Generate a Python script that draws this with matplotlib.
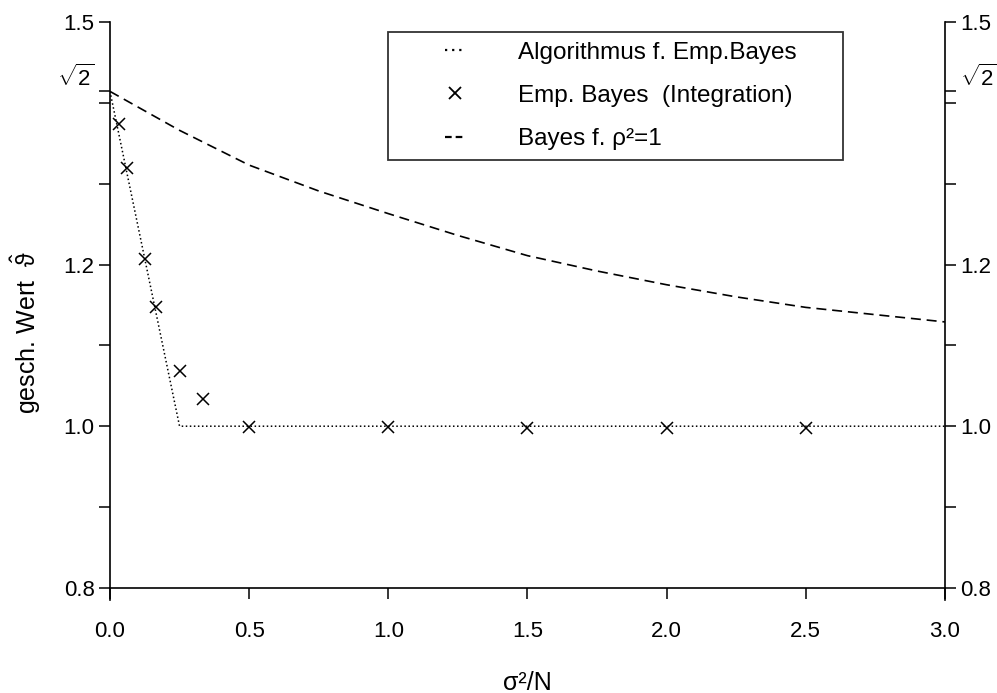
import numpy as np
import matplotlib
matplotlib.use("Agg")
import matplotlib.pyplot as plt
from matplotlib.lines import Line2D
from matplotlib.legend_handler import HandlerLine2D

plt.rcParams['font.family'] = ['Liberation Sans', 'DejaVu Sans']
plt.rcParams['mathtext.fontset'] = 'custom'
plt.rcParams['mathtext.rm'] = 'Liberation Sans'
plt.rcParams['mathtext.it'] = 'Liberation Sans'

SQ2 = np.sqrt(2)

# Algorithmus f. Emp.Bayes (dotted)
algo_x = [0.0, 0.25, 3.0]
algo_y = [SQ2, 1.0, 1.0]

# Emp. Bayes (Integration) (crosses)
emp_x = [1/32, 1/16, 1/8, 1/6, 1/4, 1/3, 0.5, 1.0, 1.5, 2.0, 2.5]
emp_y = [1.374, 1.319, 1.207, 1.147, 1.068, 1.034, 0.999, 0.999, 0.998, 0.998, 0.998]

# Bayes f. rho^2=1 (dashed)
bayes_x = [0.0, 0.25, 0.5, 0.75, 1.0, 1.25, 1.5, 1.75, 2.0, 2.25, 2.5, 2.75, 3.0]
bayes_y = [SQ2, 1.366, 1.323, 1.291, 1.263, 1.236, 1.211, 1.192, 1.175, 1.160, 1.147, 1.138, 1.129]

xticks = [0.0, 0.5, 1.0, 1.5, 2.0, 2.5, 3.0]
xticklabels = ['0.0', '0.5', '1.0', '1.5', '2.0', '2.5', '3.0']
yticks = [0.8, 0.9, 1.0, 1.1, 1.2, 1.3, 1.4, SQ2, 1.5]
yticklabels = ['0.8', '', '1.0', '', '1.2', '', '', r'$\sqrt{2}$', '1.5']

fig = plt.figure(figsize=(9.97, 6.93), dpi=100)
ax = fig.add_axes([0.1103, 0.1342, 0.8375, 0.8340])

ax.plot(algo_x, algo_y, color='black', linestyle=':', linewidth=1.1)
ax.plot(emp_x, emp_y, linestyle='none', marker='x', color='black', markersize=9, markeredgewidth=1.1)
ax.plot(bayes_x, bayes_y, color='black', linestyle=(0, (6, 3.5)), linewidth=1.2)

ax.set_xlim(0, 3.0)
ax.set_ylim(0.785, 1.5)

ax.spines['top'].set_visible(False)
ax.spines['bottom'].set_position(('data', 0.8))
for s in ['left', 'right', 'bottom']:
    ax.spines[s].set_linewidth(1.2)

ax.set_xticks(xticks)
ax.set_xticklabels(xticklabels, fontsize=16)
ax.set_yticks(yticks)
ax.set_yticklabels(yticklabels, fontsize=16)
ax.tick_params(axis='both', direction='out', length=8, width=1.1)
ax.tick_params(axis='y', right=True, labelright=True, pad=3)
ax.tick_params(axis='x', pad=16)

# sqrt(2) labels sit a little above their tick
for t in ax.yaxis.get_major_ticks():
    if abs(t.get_loc() - SQ2) < 1e-9:
        t.label1.set_va('bottom')
        t.label2.set_va('bottom')

ax.set_xlabel('σ²/N', fontsize=18)
ax.xaxis.set_label_coords(0.5, -0.122)
ax.set_ylabel(r'gesch. Wert  $\hat{\vartheta}$', fontsize=18)
ax.yaxis.set_label_coords(-0.080, 0.462)

handles = [
    Line2D([], [], color='black', linestyle=(0, (1, 2.2)), linewidth=1.6),
    Line2D([], [], color='black', linestyle='none', marker='x', markersize=8, markeredgewidth=1.3),
    Line2D([], [], color='black', linestyle=(0, (3, 1.8)), linewidth=1.6),
]
labels = ['Algorithmus f. Emp.Bayes', 'Emp. Bayes  (Integration)', 'Bayes f. ρ²=1']
hmap = {h: HandlerLine2D(xpad=1.93, numpoints=1) for h in handles}
leg = fig.legend(handles, labels, loc='upper left', handler_map=hmap,
                 bbox_to_anchor=(388/997, 1 - 32/693, (843-388)/997, 0.0),
                 mode='expand', fontsize=17.5, handlelength=2.76, handletextpad=2.18,
                 borderpad=0.4, labelspacing=0.87, borderaxespad=0,
                 fancybox=False, frameon=True)
leg.get_frame().set_edgecolor('black')
leg.get_frame().set_linewidth(1.3)

fig.savefig('out.png', dpi=100)
